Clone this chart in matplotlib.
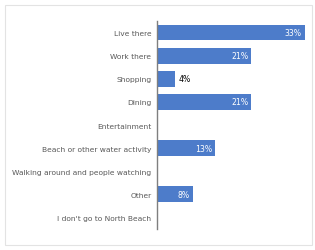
import numpy as np
import matplotlib.pyplot as plt
from matplotlib.patches import Rectangle

categories = ['Live there', 'Work there', 'Shopping', 'Dining', 'Entertainment',
              'Beach or other water activity', 'Walking around and people watching',
              'Other', "I don't go to North Beach"]
values = [33, 21, 4, 21, 0, 13, 0, 8, 0]
labels = ['33%', '21%', '4%', '21%', '', '13%', '', '8%', '']

fig = plt.figure(figsize=(3.15, 2.51), dpi=100)
fig.patches.append(Rectangle((0.015, 0.02), 0.975, 0.955, transform=fig.transFigure,
                             fill=False, edgecolor='#e3e3e3', linewidth=0.8))
ax = fig.add_axes([0.498, 0.084, 0.49, 0.828])

y = np.arange(len(categories))
bars = ax.barh(y, values, height=0.68, color='#4d7cca')
ax.set_xlim(0, 34.5)
ax.set_ylim(len(categories) - 0.5, -0.5)
ax.set_yticks(y)
ax.set_yticklabels(categories, fontsize=5.4, color='#595959')
ax.tick_params(axis='y', length=0, pad=4)
ax.set_xticks([])
for s in ['top', 'right', 'bottom']:
    ax.spines[s].set_visible(False)
ax.spines['left'].set_color('#7f7f7f')
ax.spines['left'].set_linewidth(1.0)

for yi, v, lab in zip(y, values, labels):
    if not lab:
        continue
    if v >= 8:
        ax.text(v - 0.6, yi, lab, ha='right', va='center', fontsize=5.6, color='white')
    else:
        ax.text(v + 0.8, yi, lab, ha='left', va='center', fontsize=5.6, color='black')

fig.savefig('out.png', dpi=100)
